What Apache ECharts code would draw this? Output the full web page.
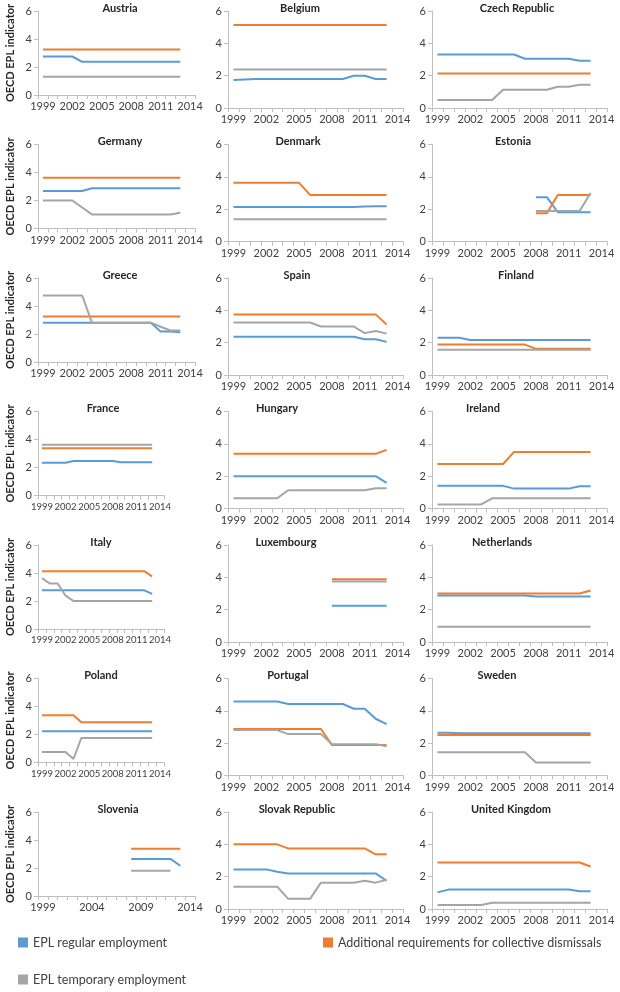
<!DOCTYPE html>
<html><head><meta charset="utf-8">
<script src="https://cdn.jsdelivr.net/npm/echarts@6/dist/echarts.min.js"></script>
<style>html,body{margin:0;padding:0;background:#fff}#c{width:620px;height:992px}</style>
</head><body><div id="c"></div>
<script>
const years = ['1999','2000','2001','2002','2003','2004','2005','2006','2007','2008','2009','2010','2011','2012','2013','2014'];
const yTicks = [0, 2, 4, 6];
const seriesNames = ['EPL regular employment', 'Additional requirements for collective dismissals', 'EPL temporary employment'];

// values 1999..2013
const AT_reg = [2.75,2.75,2.75,2.75,2.37,2.37,2.37,2.37,2.37,2.37,2.37,2.37,2.37,2.37,2.37];
const AT_col = [3.25,3.25,3.25,3.25,3.25,3.25,3.25,3.25,3.25,3.25,3.25,3.25,3.25,3.25,3.25];
const AT_tmp = [1.31,1.31,1.31,1.31,1.31,1.31,1.31,1.31,1.31,1.31,1.31,1.31,1.31,1.31,1.31];

const BE_reg = [1.73,1.76,1.79,1.79,1.79,1.79,1.79,1.79,1.79,1.79,1.79,1.99,1.99,1.79,1.79];
const BE_col = [5.13,5.13,5.13,5.13,5.13,5.13,5.13,5.13,5.13,5.13,5.13,5.13,5.13,5.13,5.13];
const BE_tmp = [2.38,2.38,2.38,2.38,2.38,2.38,2.38,2.38,2.38,2.38,2.38,2.38,2.38,2.38,2.38];

const CZ_reg = [3.31,3.31,3.31,3.31,3.31,3.31,3.31,3.31,3.05,3.05,3.05,3.05,3.05,2.92,2.92];
const CZ_col = [2.13,2.13,2.13,2.13,2.13,2.13,2.13,2.13,2.13,2.13,2.13,2.13,2.13,2.13,2.13];
const CZ_tmp = [0.50,0.50,0.50,0.50,0.50,0.50,1.13,1.13,1.13,1.13,1.13,1.31,1.31,1.44,1.44];

const DE_reg = [2.68,2.68,2.68,2.68,2.68,2.87,2.87,2.87,2.87,2.87,2.87,2.87,2.87,2.87,2.87];
const DE_col = [3.63,3.63,3.63,3.63,3.63,3.63,3.63,3.63,3.63,3.63,3.63,3.63,3.63,3.63,3.63];
const DE_tmp = [2.00,2.00,2.00,2.00,1.50,1.00,1.00,1.00,1.00,1.00,1.00,1.00,1.00,1.00,1.13];

const DK_reg = [2.13,2.13,2.13,2.13,2.13,2.13,2.13,2.13,2.13,2.13,2.13,2.13,2.17,2.18,2.18];
const DK_col = [3.63,3.63,3.63,3.63,3.63,3.63,3.63,2.88,2.88,2.88,2.88,2.88,2.88,2.88,2.88];
const DK_tmp = [1.38,1.38,1.38,1.38,1.38,1.38,1.38,1.38,1.38,1.38,1.38,1.38,1.38,1.38,1.38];

const EE_reg = [null,null,null,null,null,null,null,null,null,2.74,2.74,1.81,1.81,1.81,1.81];
const EE_col = [null,null,null,null,null,null,null,null,null,1.75,1.75,2.88,2.88,2.88,2.88];
const EE_tmp = [null,null,null,null,null,null,null,null,null,1.88,1.88,1.88,1.88,1.88,3.00];

const GR_reg = [2.80,2.80,2.80,2.80,2.80,2.80,2.80,2.80,2.80,2.80,2.80,2.80,2.17,2.17,2.12];
const GR_col = [3.25,3.25,3.25,3.25,3.25,3.25,3.25,3.25,3.25,3.25,3.25,3.25,3.25,3.25,3.25];
const GR_tmp = [4.75,4.75,4.75,4.75,4.75,2.81,2.81,2.81,2.81,2.81,2.81,2.81,2.52,2.25,2.25];

const ES_reg = [2.36,2.36,2.36,2.36,2.36,2.36,2.36,2.36,2.36,2.36,2.36,2.36,2.21,2.21,2.05];
const ES_col = [3.75,3.75,3.75,3.75,3.75,3.75,3.75,3.75,3.75,3.75,3.75,3.75,3.75,3.75,3.13];
const ES_tmp = [3.25,3.25,3.25,3.25,3.25,3.25,3.25,3.25,3.00,3.00,3.00,3.00,2.59,2.72,2.56];

const FI_reg = [2.31,2.31,2.31,2.17,2.17,2.17,2.17,2.17,2.17,2.17,2.17,2.17,2.17,2.17,2.17];
const FI_col = [1.88,1.88,1.88,1.88,1.88,1.88,1.88,1.88,1.88,1.62,1.62,1.62,1.62,1.62,1.62];
const FI_tmp = [1.56,1.56,1.56,1.56,1.56,1.56,1.56,1.56,1.56,1.56,1.56,1.56,1.56,1.56,1.56];

const FR_reg = [2.34,2.34,2.34,2.34,2.47,2.47,2.47,2.47,2.47,2.47,2.38,2.38,2.38,2.38,2.38];
const FR_col = [3.38,3.38,3.38,3.38,3.38,3.38,3.38,3.38,3.38,3.38,3.38,3.38,3.38,3.38,3.38];
const FR_tmp = [3.63,3.63,3.63,3.63,3.63,3.63,3.63,3.63,3.63,3.63,3.63,3.63,3.63,3.63,3.63];

const HU_reg = [2.00,2.00,2.00,2.00,2.00,2.00,2.00,2.00,2.00,2.00,2.00,2.00,2.00,2.00,1.59];
const HU_col = [3.38,3.38,3.38,3.38,3.38,3.38,3.38,3.38,3.38,3.38,3.38,3.38,3.38,3.38,3.63];
const HU_tmp = [0.63,0.63,0.63,0.63,0.63,1.13,1.13,1.13,1.13,1.13,1.13,1.13,1.13,1.25,1.25];

const IE_reg = [1.40,1.40,1.40,1.40,1.40,1.40,1.40,1.23,1.23,1.23,1.23,1.23,1.23,1.38,1.38];
const IE_col = [2.75,2.75,2.75,2.75,2.75,2.75,2.75,3.50,3.50,3.50,3.50,3.50,3.50,3.50,3.50];
const IE_tmp = [0.25,0.25,0.25,0.25,0.25,0.63,0.63,0.63,0.63,0.63,0.63,0.63,0.63,0.63,0.63];

const IT_reg = [2.76,2.76,2.76,2.76,2.76,2.76,2.76,2.76,2.76,2.76,2.76,2.76,2.76,2.76,2.51];
const IT_col = [4.13,4.13,4.13,4.13,4.13,4.13,4.13,4.13,4.13,4.13,4.13,4.13,4.13,4.13,3.75];
const IT_tmp = [3.63,3.25,3.25,2.38,2.00,2.00,2.00,2.00,2.00,2.00,2.00,2.00,2.00,2.00,2.00];

const LU_reg = [null,null,null,null,null,null,null,null,null,2.25,2.25,2.25,2.25,2.25,2.25];
const LU_col = [null,null,null,null,null,null,null,null,null,3.88,3.88,3.88,3.88,3.88,3.88];
const LU_tmp = [null,null,null,null,null,null,null,null,null,3.75,3.75,3.75,3.75,3.75,3.75];

const NL_reg = [2.88,2.88,2.88,2.88,2.88,2.88,2.88,2.88,2.88,2.82,2.82,2.82,2.82,2.82,2.82];
const NL_col = [3.00,3.00,3.00,3.00,3.00,3.00,3.00,3.00,3.00,3.00,3.00,3.00,3.00,3.00,3.19];
const NL_tmp = [0.94,0.94,0.94,0.94,0.94,0.94,0.94,0.94,0.94,0.94,0.94,0.94,0.94,0.94,0.94];

const PL_reg = [2.23,2.23,2.23,2.23,2.23,2.23,2.23,2.23,2.23,2.23,2.23,2.23,2.23,2.23,2.23];
const PL_col = [3.38,3.38,3.38,3.38,3.38,2.88,2.88,2.88,2.88,2.88,2.88,2.88,2.88,2.88,2.88];
const PL_tmp = [0.75,0.75,0.75,0.75,0.25,1.75,1.75,1.75,1.75,1.75,1.75,1.75,1.75,1.75,1.75];

const PT_reg = [4.58,4.58,4.58,4.58,4.58,4.42,4.42,4.42,4.42,4.42,4.42,4.13,4.13,3.51,3.18];
const PT_col = [2.88,2.88,2.88,2.88,2.88,2.88,2.88,2.88,2.88,1.88,1.88,1.88,1.88,1.88,1.88];
const PT_tmp = [2.81,2.81,2.81,2.81,2.81,2.56,2.56,2.56,2.56,1.94,1.94,1.94,1.94,1.94,1.81];

const SE_reg = [2.65,2.65,2.61,2.61,2.61,2.61,2.61,2.61,2.61,2.61,2.61,2.61,2.61,2.61,2.61];
const SE_col = [2.50,2.50,2.50,2.50,2.50,2.50,2.50,2.50,2.50,2.50,2.50,2.50,2.50,2.50,2.50];
const SE_tmp = [1.44,1.44,1.44,1.44,1.44,1.44,1.44,1.44,1.44,0.81,0.81,0.81,0.81,0.81,0.81];

const SI_reg = [null,null,null,null,null,null,null,null,null,2.65,2.65,2.65,2.65,2.65,2.16];
const SI_col = [null,null,null,null,null,null,null,null,null,3.38,3.38,3.38,3.38,3.38,3.38];
const SI_tmp = [null,null,null,null,null,null,null,null,null,1.81,1.81,1.81,1.81,1.81,null];

const SK_reg = [2.45,2.45,2.45,2.45,2.30,2.20,2.20,2.20,2.20,2.20,2.20,2.20,2.20,2.20,1.75];
const SK_col = [4.00,4.00,4.00,4.00,4.00,3.75,3.75,3.75,3.75,3.75,3.75,3.75,3.75,3.38,3.38];
const SK_tmp = [1.38,1.38,1.38,1.38,1.38,0.63,0.63,0.63,1.63,1.63,1.63,1.63,1.75,1.63,1.81];

const UK_reg = [1.03,1.20,1.20,1.20,1.20,1.20,1.20,1.20,1.20,1.20,1.20,1.20,1.20,1.10,1.10];
const UK_col = [2.88,2.88,2.88,2.88,2.88,2.88,2.88,2.88,2.88,2.88,2.88,2.88,2.88,2.88,2.63];
const UK_tmp = [0.25,0.25,0.25,0.25,0.25,0.38,0.38,0.38,0.38,0.38,0.38,0.38,0.38,0.38,0.38];

const countries = ['Austria','Belgium','Czech Republic','Germany','Denmark','Estonia','Greece','Spain','Finland','France','Hungary','Ireland','Italy','Luxembourg','Netherlands','Poland','Portugal','Sweden','Slovenia','Slovak Republic','United Kingdom'];
const regData = [AT_reg,BE_reg,CZ_reg,DE_reg,DK_reg,EE_reg,GR_reg,ES_reg,FI_reg,FR_reg,HU_reg,IE_reg,IT_reg,LU_reg,NL_reg,PL_reg,PT_reg,SE_reg,SI_reg,SK_reg,UK_reg];
const colData = [AT_col,BE_col,CZ_col,DE_col,DK_col,EE_col,GR_col,ES_col,FI_col,FR_col,HU_col,IE_col,IT_col,LU_col,NL_col,PL_col,PT_col,SE_col,SI_col,SK_col,UK_col];
const tmpData = [AT_tmp,BE_tmp,CZ_tmp,DE_tmp,DK_tmp,EE_tmp,GR_tmp,ES_tmp,FI_tmp,FR_tmp,HU_tmp,IE_tmp,IT_tmp,LU_tmp,NL_tmp,PL_tmp,PT_tmp,SE_tmp,SI_tmp,SK_tmp,UK_tmp];

// layout
const FONT = 'Lato, "Liberation Sans", sans-serif';
const colors = ['#5b9bd5', '#ed7d31', '#a5a5a5'];
const colLeft = [38, 228, 432];
const titleX = [120,300,517, 120,298,513, 120,297,516, 103,277,483, 101,286,502, 101,288,497, 118,297,511];
const grids = [], xAxes = [], yAxes = [], series = [], graphics = [];

countries.forEach((name, i) => {
  const r = Math.floor(i / 3), c = i % 3;
  const top = 11 + r * 133.5;
  const narrow = (c === 0 && (r === 3 || r === 4 || r === 5));
  const width = c === 0 ? (narrow ? 126 : 157) : 175;
  const height = c === 0 ? 84 : 97;
  grids.push({ left: colLeft[c], top: top, width: width, height: height, containLabel: false });
  const labStep = (name === 'Slovenia') ? 4 : 2;
  xAxes.push({
    type: 'category', gridIndex: i, data: years, boundaryGap: true,
    axisLine: { lineStyle: { color: '#bfbfbf', width: 1 } },
    axisTick: { show: true, interval: 0, length: 4, lineStyle: { color: '#bfbfbf' } },
    axisLabel: { interval: labStep, fontSize: narrow ? 9.5 : 11, color: '#404040', fontFamily: FONT, margin: 6,
      showMinLabel: true, showMaxLabel: true, hideOverlap: false },
    splitLine: { show: false }
  });
  yAxes.push({
    type: 'value', gridIndex: i, min: yTicks[0], max: yTicks[yTicks.length - 1], interval: 2,
    axisLine: { show: true, lineStyle: { color: '#bfbfbf', width: 1 } },
    axisTick: { show: true, length: 4, lineStyle: { color: '#bfbfbf' } },
    axisLabel: { fontSize: 11, color: '#404040', fontFamily: FONT, margin: 6 },
    splitLine: { show: false },
    name: c === 0 ? 'OECD EPL indicator' : '',
    nameLocation: 'middle', nameRotate: 90, nameGap: 22,
    nameTextStyle: { fontSize: 11, fontWeight: 'bold', color: '#262626', fontFamily: FONT }
  });
  [regData[i], colData[i], tmpData[i]].forEach((d, k) => {
    series.push({
      name: seriesNames[k], type: 'line', xAxisIndex: i, yAxisIndex: i, data: d,
      symbol: 'none', connectNulls: false, animation: false,
      lineStyle: { color: colors[k], width: 2 }, itemStyle: { color: colors[k] }
    });
  });
  graphics.push({
    type: 'text', x: titleX[i], y: top - 3,
    style: { text: name, textAlign: 'center', textVerticalAlign: 'middle', font: 'bold 11px ' + FONT, fill: '#262626' }
  });
});

const legendBase = { orient: 'horizontal', icon: 'rect', itemWidth: 10, itemHeight: 10, itemGap: 10,
  textStyle: { fontSize: 12.5, color: '#404040', fontFamily: FONT }, selectedMode: false };

const chart = echarts.init(document.getElementById('c'));
chart.setOption({
  animation: false,
  grid: grids, xAxis: xAxes, yAxis: yAxes, series: series,
  legend: [
    Object.assign({}, legendBase, { data: [seriesNames[0]], left: 13, top: 931 }),
    Object.assign({}, legendBase, { data: [seriesNames[1]], left: 318, top: 931 }),
    Object.assign({}, legendBase, { data: [seriesNames[2]], left: 13, top: 968 })
  ],
  graphic: graphics
});
</script>
</body></html>
